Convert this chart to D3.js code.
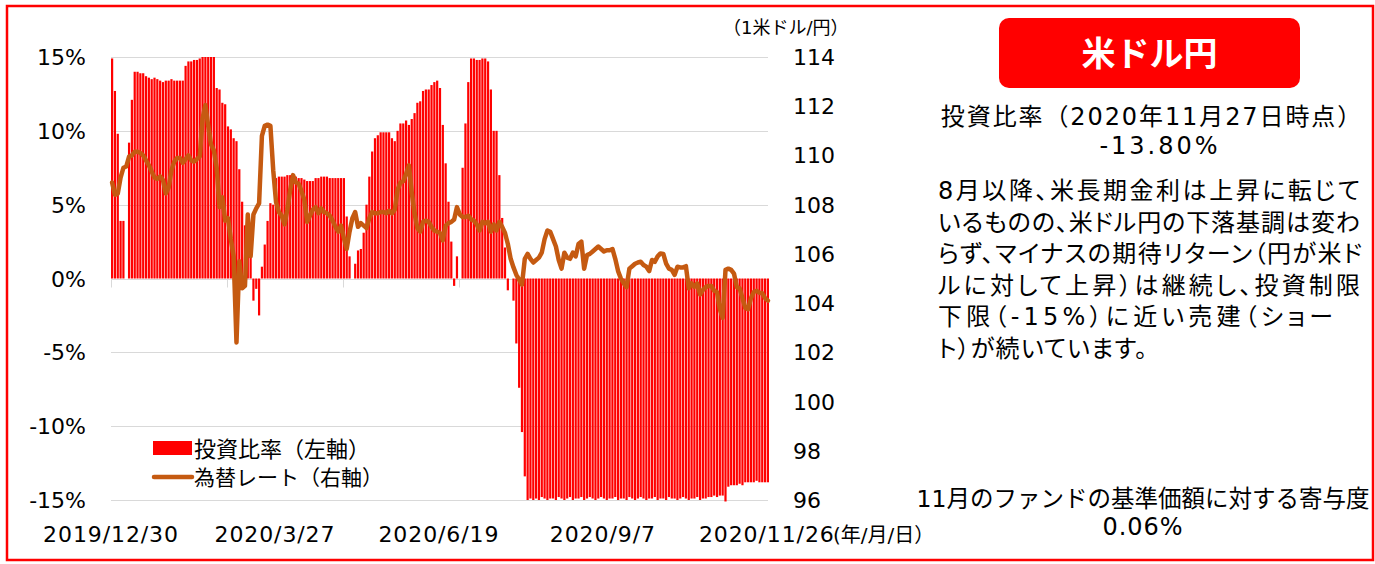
<!DOCTYPE html>
<html lang="ja">
<head>
<meta charset="utf-8">
<script src="https://cdn.jsdelivr.net/npm/d3@7"></script>
<style>
body {
    margin: 0;
    background: #fff;
}
text {
    font-family: "DejaVu Sans", "Noto Sans CJK JP", sans-serif;
    fill: #000;
}
.grid line {
    stroke: #d9d9d9;
    stroke-width: 1;
}
.rate-line {
    fill: none;
    stroke: #c55a11;
    stroke-width: 4.5;
    stroke-linejoin: round;
    stroke-linecap: round;
}
.note {
    font-feature-settings: "palt";
}
</style>
</head>
<body>
<div id="chart"></div>
<script>
    // investment ratio (%) per business day, 2019/12/30 .. 2020/11/26
    var ratio = [
        14.9, 12.7, 9.8, 3.9, 3.9, 0.0, 9.2, 12.1, 14.0, 14.0,
        13.9, 13.9, 13.7, 13.6, 13.5, 13.6, 13.5, 13.4, 13.3, 13.4,
        13.4, 13.5, 13.4, 13.4, 13.4, 13.4, 14.4, 14.7, 14.7, 14.8,
        14.8, 14.9, 15.0, 15.0, 15.0, 15.0, 15.0, 12.9, 12.8, 11.9,
        11.8, 10.3, 10.1, 9.5, 9.3, 7.4, 5.2, 3.6, 4.3, 1.4,
        -1.5, -0.7, -2.5, 0.8, 2.3, 3.9, 5.1, 5.0, 6.8, 6.9,
        6.9, 6.9, 7.0, 7.0, 7.0, 6.9, 6.8, 6.8, 6.7, 6.6,
        6.6, 6.6, 6.8, 6.8, 6.9, 6.9, 6.9, 6.8, 6.8, 6.8,
        6.8, 6.8, 6.8, 4.2, 1.5, 0.0, 1.0, 1.9, 2.0, 3.1,
        5.0, 6.9, 8.6, 9.5, 9.7, 9.9, 9.9, 9.9, 9.9, 9.5,
        9.3, 10.0, 10.5, 10.5, 10.7, 10.4, 10.8, 11.2, 11.9, 12.0,
        12.7, 12.8, 12.8, 13.1, 13.3, 13.4, 12.9, 10.4, 7.8, 5.2,
        2.5, -0.5, 1.5, 0.0, 7.5, 10.5, 13.3, 14.9, 14.9, 14.8,
        14.8, 14.9, 14.9, 14.7, 12.8, 10.0, 10.0, 7.0, 4.1, 2.1,
        -0.8, 0.0, -1.5, -4.4, -7.4, -10.4, -13.4, -15.0, -14.9, -15.0,
        -14.9, -15.0, -14.8, -14.9, -15.0, -14.9, -14.9, -15.0, -14.8, -14.9,
        -15.0, -14.9, -14.8, -15.0, -14.9, -14.9, -14.8, -15.0, -14.9, -14.8,
        -14.9, -15.0, -14.9, -14.8, -14.9, -15.0, -14.9, -14.9, -14.8, -15.0,
        -14.9, -14.9, -15.0, -14.8, -14.9, -15.0, -14.9, -14.8, -14.9, -15.0,
        -14.9, -14.9, -14.8, -15.0, -14.9, -14.9, -15.0, -14.8, -14.9, -14.9,
        -15.0, -14.9, -14.8, -14.9, -15.0, -14.9, -14.9, -14.8, -15.0, -14.9,
        -14.9, -14.8, -14.8, -14.7, -14.8, -14.7, -14.7, -15.1, -14.1, -14.0,
        -14.0, -14.0, -13.9, -14.0, -13.8, -13.8, -13.8, -13.8, -13.7, -13.8,
        -13.8, -13.8, -13.8
    ];

    // USD/JPY rate per business day
    var rate = [
        108.9, 108.4, 108.45, 109.1, 109.5, 109.55, 109.95, 110.0, 110.15, 110.15,
        110.1, 110.0, 109.8, 109.6, 109.35, 109.1, 109.05, 109.15, 109.0, 108.45,
        108.7, 109.4, 109.75, 109.9, 109.9, 109.7, 109.85, 110.0, 109.8, 109.75,
        109.85, 109.95, 111.5, 112.05, 111.2, 110.45, 110.2, 109.5, 107.9, 108.3,
        107.35, 107.45, 106.6, 105.9, 102.4, 105.7, 104.6, 104.7, 107.6, 105.9,
        107.6, 107.85, 108.05, 110.8, 111.2, 111.25, 111.2, 109.4, 108.1, 107.7,
        107.55, 107.2, 107.8, 108.6, 109.2, 108.9, 108.85, 108.55, 108.2, 107.3,
        107.55, 107.8, 107.9, 107.65, 107.85, 107.7, 107.65, 107.55, 107.35, 107.1,
        106.9, 107.15, 106.65, 106.2, 106.9, 107.45, 107.7, 107.1, 107.25, 107.15,
        107.05, 107.45, 107.7, 107.65, 107.65, 107.7, 107.7, 107.65, 107.75, 107.65,
        107.8, 108.6, 108.9, 108.95, 109.25, 109.6, 108.5, 107.65, 107.05, 106.9,
        107.3, 107.35, 107.3, 107.1, 106.95, 106.9, 106.85, 106.55, 107.15, 107.25,
        107.3, 107.4, 107.9, 107.6, 107.5, 107.5, 107.55, 107.4, 107.35, 107.2,
        106.95, 107.3, 107.25, 107.3, 106.9, 107.2, 106.95, 107.3, 107.1, 106.85,
        106.4, 105.8, 105.45, 105.15, 104.95, 104.75, 105.8, 106.0, 105.8, 105.65,
        105.75, 105.85, 106.05, 106.6, 106.95, 106.9, 106.6, 106.3, 105.75, 105.4,
        106.05, 105.85, 105.8, 106.05, 105.9, 106.4, 106.5, 105.4, 105.95, 106.0,
        106.1, 106.2, 106.3, 106.2, 106.1, 106.15, 106.15, 106.2, 105.8, 105.3,
        105.0, 104.8, 104.65, 105.4, 105.5, 105.6, 105.65, 105.68, 105.55, 105.48,
        105.3, 105.75, 105.68, 105.9, 106.02, 106.0, 105.6, 105.4, 105.35, 105.15,
        105.48, 105.45, 105.45, 105.5, 104.6, 104.8, 104.66, 104.8, 104.35, 104.53,
        104.65, 104.7, 104.7, 104.5, 104.45, 103.75, 103.4, 105.35, 105.4, 105.35,
        105.2, 104.65, 104.6, 104.2, 103.8, 103.75, 104.2, 104.45, 104.5, 104.42,
        104.4, 104.2, 104.1
    ];

    var dateLabels = ["2019/12/30", "2020/3/27", "2020/6/19", "2020/9/7", "2020/11/26"];
    var dateLabelIndex = [0, 58, 116, 174, 232];
    var leftTicks = [-15, -10, -5, 0, 5, 10, 15];
    var rightTicks = [96, 98, 100, 102, 104, 106, 108, 110, 112, 114];

    var noteLines = [
        "8月以降、米長期金利は上昇に転じて",
        "いるものの、米ドル円の下落基調は変わ",
        "らず、マイナスの期待リターン（円が米ド",
        "ルに対して上昇）は継続し、投資制限",
        "下限（-15%）に近い売建（ショー",
        "ト）が続いています。"
    ];
    // rendered width of each note line in the reference
    var noteWidths = [422, 422, 424, 422, 395, 209];

    var width = 1375,
        height = 564;

    var svg = d3.select("#chart")
        .append("svg")
        .attr("width", width)
        .attr("height", height);

    // outer red frame
    svg.append("rect")
        .attr("x", 7)
        .attr("y", 6)
        .attr("width", 1366)
        .attr("height", 554)
        .attr("fill", "none")
        .attr("stroke", "#ff0000")
        .attr("stroke-width", 2.5);

    var x = d3.scaleBand()
        .domain(d3.range(ratio.length))
        .range([111, 769])
        .paddingInner(0.22);

    var yLeft = d3.scaleLinear()
        .domain([-15, 15])
        .range([500, 57]);

    var yRight = d3.scaleLinear()
        .domain([96, 114])
        .range([500, 57]);

    // gridlines
    svg.append("g")
        .attr("class", "grid")
        .selectAll("line")
        .data(leftTicks)
        .enter()
        .append("line")
        .attr("x1", 111)
        .attr("x2", 768)
        .attr("y1", function (d) { return Math.round(yLeft(d)) + 0.5; })
        .attr("y2", function (d) { return Math.round(yLeft(d)) + 0.5; });

    // small category ticks under the zero line
    svg.append("g")
        .attr("class", "grid")
        .selectAll("line")
        .data(d3.range(0, ratio.length, 41))
        .enter()
        .append("line")
        .attr("x1", function (d) { return Math.round(x(d)) + 0.5; })
        .attr("x2", function (d) { return Math.round(x(d)) + 0.5; })
        .attr("y1", yLeft(0))
        .attr("y2", yLeft(0) + 9);

    // bars
    svg.append("g")
        .selectAll("rect")
        .data(ratio)
        .enter()
        .append("rect")
        .attr("x", function (d, i) { return x(i); })
        .attr("width", x.bandwidth())
        .attr("y", function (d) { return yLeft(Math.max(0, d)); })
        .attr("height", function (d) { return Math.abs(yLeft(d) - yLeft(0)); })
        .attr("fill", "#ff0000");

    // exchange rate line
    var line = d3.line()
        .x(function (d, i) { return x(i) + x.bandwidth() / 2; })
        .y(function (d) { return yRight(d); });

    svg.append("path")
        .datum(rate)
        .attr("class", "rate-line")
        .attr("d", line);

    // left axis labels
    svg.append("g")
        .selectAll("text")
        .data(leftTicks)
        .enter()
        .append("text")
        .attr("x", 86)
        .attr("y", function (d) { return yLeft(d) + 8; })
        .attr("text-anchor", "end")
        .style("font-size", "22px")
        .text(function (d) { return d + "%"; });

    // right axis labels
    svg.append("g")
        .selectAll("text")
        .data(rightTicks)
        .enter()
        .append("text")
        .attr("x", 793)
        .attr("y", function (d) { return yRight(d) + 8; })
        .style("font-size", "22px")
        .text(function (d) { return d; });

    svg.append("text")
        .attr("x", 723)
        .attr("y", 34)
        .style("font-size", "18px")
        .text("（1米ドル/円）");

    // date labels
    svg.append("g")
        .selectAll("text")
        .data(dateLabels)
        .enter()
        .append("text")
        .attr("x", function (d, i) { return x(dateLabelIndex[i]); })
        .attr("y", 542)
        .attr("text-anchor", "middle")
        .style("font-size", "22px")
        .style("letter-spacing", "0.9px")
        .text(function (d) { return d; });

    svg.append("text")
        .attr("x", 833)
        .attr("y", 542)
        .style("font-size", "20px")
        .text("(年/月/日）");

    // legend
    var legend = svg.append("g");

    legend.append("rect")
        .attr("x", 153)
        .attr("y", 441)
        .attr("width", 39)
        .attr("height", 14)
        .attr("fill", "#ff0000");

    legend.append("text")
        .attr("x", 194)
        .attr("y", 457)
        .style("font-size", "22px")
        .text("投資比率（左軸）");

    legend.append("line")
        .attr("class", "rate-line")
        .attr("x1", 154)
        .attr("x2", 192)
        .attr("y1", 477)
        .attr("y2", 477);

    legend.append("text")
        .attr("x", 194)
        .attr("y", 485)
        .style("font-size", "21px")
        .text("為替レート（右軸）");

    // right panel
    svg.append("rect")
        .attr("x", 999)
        .attr("y", 18)
        .attr("width", 301)
        .attr("height", 70)
        .attr("rx", 10)
        .attr("fill", "#ff0000");

    svg.append("text")
        .attr("x", 1149.5)
        .attr("y", 66)
        .attr("text-anchor", "middle")
        .style("font-size", "34px")
        .style("font-weight", "bold")
        .style("fill", "#fff")
        .text("米ドル円");

    svg.append("text")
        .attr("x", 1152)
        .attr("y", 125)
        .attr("text-anchor", "middle")
        .style("font-size", "24px")
        .style("letter-spacing", "1.9px")
        .text("投資比率（2020年11月27日時点）");

    svg.append("text")
        .attr("x", 1160)
        .attr("y", 154)
        .attr("text-anchor", "middle")
        .style("font-size", "24px")
        .style("letter-spacing", "3px")
        .text("-13.80%");

    svg.append("g")
        .selectAll("text")
        .data(noteLines)
        .enter()
        .append("text")
        .attr("class", "note")
        .attr("x", 938)
        .attr("y", function (d, i) { return 199 + i * 31.6; })
        .attr("textLength", function (d, i) { return noteWidths[i]; })
        .attr("lengthAdjust", "spacing")
        .style("font-size", "24px")
        .text(function (d) { return d; });

    svg.append("text")
        .attr("x", 1143)
        .attr("y", 507)
        .attr("text-anchor", "middle")
        .style("font-size", "23.5px")
        .text("11月のファンドの基準価額に対する寄与度");

    svg.append("text")
        .attr("x", 1143)
        .attr("y", 535)
        .attr("text-anchor", "middle")
        .style("font-size", "24px")
        .style("letter-spacing", "1px")
        .text("0.06%");
</script>
</body>
</html>
